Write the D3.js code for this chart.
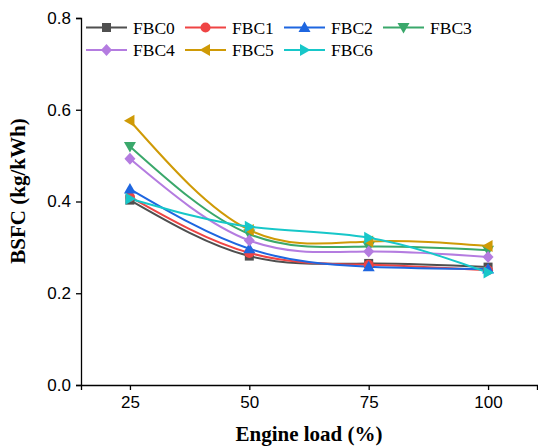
<!DOCTYPE html>
<html>
<head>
<meta charset="utf-8">
<script src="https://cdn.jsdelivr.net/npm/d3@7.9.0/dist/d3.min.js"></script>
<style>
  body { margin: 0; background: #fff; }
  svg { display: block; }
  .tick text { font-family: "Liberation Sans", Arial, sans-serif; font-size: 17px; fill: #000; }
</style>
</head>
<body>
<svg id="chart" width="538" height="446"></svg>
<script>
const loads = [25, 50, 75, 100];
const seriesNames = ['FBC0', 'FBC1', 'FBC2', 'FBC3', 'FBC4', 'FBC5', 'FBC6'];
const fbc0 = [0.403, 0.281, 0.265, 0.257];
const fbc1 = [0.410, 0.288, 0.262, 0.250];
const fbc2 = [0.427, 0.297, 0.258, 0.253];
const fbc3 = [0.520, 0.329, 0.302, 0.294];
const fbc4 = [0.493, 0.315, 0.291, 0.279];
const fbc5 = [0.576, 0.338, 0.313, 0.303];
const fbc6 = [0.406, 0.345, 0.321, 0.245];
const yTicks = [0.0, 0.2, 0.4, 0.6, 0.8];

const allValues = [fbc0, fbc1, fbc2, fbc3, fbc4, fbc5, fbc6];
const colors = ['#4f4f4f', '#ef4444', '#1e66e0', '#3aa86b', '#b47ce0', '#cf9a06', '#17c7c9'];
const symbols = ['square', 'circle', 'up', 'down', 'diamond', 'left', 'right'];

const svg = d3.select('#chart');

const x = d3.scaleLinear().domain([14.75, 110.25]).range([81, 537]);
const y = d3.scaleLinear().domain([0, 0.8]).range([385, 18]);

// axes
svg.append('g')
  .attr('transform', 'translate(0,385)')
  .call(d3.axisBottom(x).tickValues(loads).tickSize(5).tickPadding(6))
  .call(g => g.select('.domain').attr('stroke', '#000').attr('stroke-width', 1.3))
  .call(g => g.selectAll('.tick line').attr('stroke-width', 1.3));

svg.append('g')
  .attr('transform', 'translate(81,0)')
  .call(d3.axisLeft(y).tickValues(yTicks).tickFormat(d3.format('.1f')).tickSize(5).tickPadding(5))
  .call(g => g.select('.domain').attr('stroke', '#000').attr('stroke-width', 1.3))
  .call(g => g.selectAll('.tick line').attr('stroke-width', 1.3));

svg.append('text')
  .attr('x', 309).attr('y', 441)
  .attr('text-anchor', 'middle')
  .style('font-family', '"Liberation Serif", "Times New Roman", serif')
  .style('font-weight', 'bold').style('font-size', '21px')
  .text('Engine load (%)');

svg.append('text')
  .attr('transform', 'translate(25,191) rotate(-90)')
  .attr('text-anchor', 'middle')
  .style('font-family', '"Liberation Serif", "Times New Roman", serif')
  .style('font-weight', 'bold').style('font-size', '21px')
  .text('BSFC (kg/kWh)');

function drawMarker(g, kind, cx, cy, color) {
  let pts;
  if (kind === 'square') {
    g.append('rect').attr('x', cx - 4.5).attr('y', cy - 4.5).attr('width', 9).attr('height', 9).attr('fill', color);
    return;
  }
  if (kind === 'circle') {
    g.append('circle').attr('cx', cx).attr('cy', cy).attr('r', 5).attr('fill', color);
    return;
  }
  if (kind === 'up') pts = [[cx, cy - 6], [cx + 6, cy + 4.5], [cx - 6, cy + 4.5]];
  if (kind === 'down') pts = [[cx, cy + 6], [cx + 6, cy - 4.5], [cx - 6, cy - 4.5]];
  if (kind === 'left') pts = [[cx - 6, cy], [cx + 4.5, cy - 6], [cx + 4.5, cy + 6]];
  if (kind === 'right') pts = [[cx + 6, cy], [cx - 4.5, cy - 6], [cx - 4.5, cy + 6]];
  if (kind === 'diamond') pts = [[cx, cy - 6], [cx + 5.5, cy], [cx, cy + 6], [cx - 5.5, cy]];
  g.append('polygon').attr('points', pts.map(p => p.join(',')).join(' ')).attr('fill', color);
}

const line = d3.line()
  .x((d, i) => x(loads[i]))
  .y(d => y(d))
  .curve(d3.curveNatural);

const plot = svg.append('g');
allValues.forEach((vals, k) => {
  plot.append('path')
    .attr('d', line(vals))
    .attr('fill', 'none')
    .attr('stroke', colors[k])
    .attr('stroke-width', 2);
});
allValues.forEach((vals, k) => {
  const g = plot.append('g');
  vals.forEach((v, i) => drawMarker(g, symbols[k], x(loads[i]), y(v), colors[k]));
});

// legend
const legend = svg.append('g');
seriesNames.forEach((name, k) => {
  const col = k < 4 ? k : k - 4;
  const row = k < 4 ? 0 : 1;
  const lx = 86 + col * 99;
  const ly = 27.5 + row * 22.5;
  legend.append('line')
    .attr('x1', lx).attr('x2', lx + 41)
    .attr('y1', ly).attr('y2', ly)
    .attr('stroke', colors[k]).attr('stroke-width', 2);
  drawMarker(legend, symbols[k], lx + 20.5, ly, colors[k]);
  legend.append('text')
    .attr('x', lx + 47).attr('y', ly + 6)
    .style('font-family', '"Liberation Serif", "Times New Roman", serif')
    .style('font-size', '17.5px')
    .text(name);
});
</script>
</body>
</html>
